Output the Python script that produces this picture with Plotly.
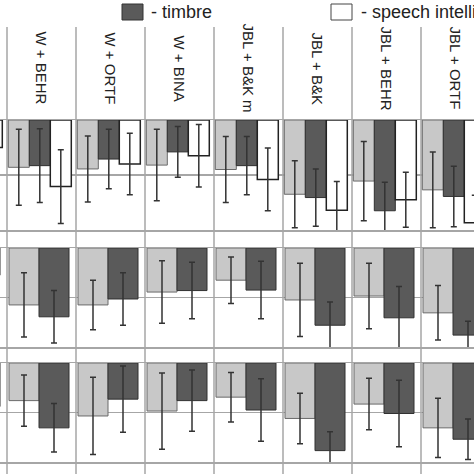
import plotly.graph_objects as go

# ---------------- data ----------------
categories = ["W + B&K", "W + BEHR", "W + ORTF", "W + BINA",
              "JBL + B&K m", "JBL + B&K", "JBL + BEHR", "JBL + ORTF"]

series_names = ["overall quality", "timbre", "speech intelligibility"]

# panel 1 (three series)
p1_light = [0.60, 0.86, 0.89, 0.82, 0.90, 1.35, 1.11, 1.27]
p1_light_err = [0.60, 0.69, 0.60, 0.65, 0.60, 0.61, 0.72, 0.69]
p1_dark = [0.60, 0.83, 0.71, 0.58, 0.83, 1.41, 1.65, 1.39]
p1_dark_err = [0.55, 0.67, 0.54, 0.46, 0.53, 0.52, 0.52, 0.55]
p1_white = [0.50, 1.21, 0.80, 0.65, 1.08, 1.64, 1.45, 1.87]
p1_white_err = [0.55, 0.67, 0.56, 0.57, 0.57, 0.52, 0.50, 0.50]

# panel 2 (two series)
p2_light = [0.80, 1.15, 1.15, 0.89, 0.65, 1.05, 0.97, 1.31]
p2_light_err = [0.50, 0.65, 0.50, 0.63, 0.47, 0.74, 0.66, 0.55]
p2_dark = [0.55, 1.39, 1.03, 0.86, 0.85, 1.56, 1.41, 1.76]
p2_dark_err = [0.50, 0.53, 0.53, 0.57, 0.58, 0.47, 0.63, 0.28]

# panel 3 (two series)
p3_light = [0.70, 0.76, 1.07, 0.97, 0.69, 1.12, 0.83, 1.31]
p3_light_err = [0.50, 0.52, 0.78, 0.77, 0.50, 0.51, 0.52, 0.60]
p3_dark = [0.88, 1.31, 0.73, 0.76, 0.95, 1.77, 1.02, 1.54]
p3_dark_err = [0.50, 0.49, 0.67, 0.62, 0.63, 0.38, 0.67, 0.41]

# ---------------- style ----------------
W = H = 474
LIGHT = "#c8c8c8"
DARK = "#5a5a5a"
WHITE = "#ffffff"
ERRC = "#333333"
GRID = "#a6a6a6"
FONT = "Liberation Sans, Arial, sans-serif"

xpos = list(range(len(categories)))
col_px = 69.0           # column width in pixels
left_px = 7.0           # left edge of column index 1
x_range = [0.5 - left_px / col_px, 0.5 + (W - left_px) / col_px]


def py(p):
    return 1 - p / H


def bar(vals, errs, color, line_color, line_w, offset, width, xa, ya, name):
    return go.Bar(
        x=xpos, y=vals, name=name, xaxis=xa, yaxis=ya,
        offset=offset, width=width,
        marker=dict(color=color, line=dict(color=line_color, width=line_w)),
        error_y=dict(type="data", array=errs, visible=True,
                     color=ERRC, thickness=1.5, width=3),
        showlegend=False, cliponaxis=False,
    )


fig = go.Figure()

w1 = 21 / col_px
o1 = -0.5 + 1.3 / col_px
fig.add_trace(bar(p1_light, p1_light_err, LIGHT, "#6a6a6a", 1, o1, w1, "x", "y", series_names[0]))
fig.add_trace(bar(p1_dark, p1_dark_err, DARK, "#303030", 1, o1 + w1, w1, "x", "y", series_names[1]))
fig.add_trace(bar(p1_white, p1_white_err, WHITE, "#222222", 1.5, o1 + 2 * w1, w1, "x", "y", series_names[2]))

w2 = 30 / col_px
o2 = -0.5 + 2 / col_px
fig.add_trace(bar(p2_light, p2_light_err, LIGHT, "#6a6a6a", 1, o2, w2, "x2", "y2", series_names[0]))
fig.add_trace(bar(p2_dark, p2_dark_err, DARK, "#303030", 1, o2 + w2, w2, "x2", "y2", series_names[1]))
fig.add_trace(bar(p3_light, p3_light_err, LIGHT, "#6a6a6a", 1, o2, w2, "x3", "y3", series_names[0]))
fig.add_trace(bar(p3_dark, p3_dark_err, DARK, "#303030", 1, o2 + w2, w2, "x3", "y3", series_names[1]))

# panel vertical extents (pixels from top)
panels = [(120, 230), (248, 347), (363, 462)]

xa_common = dict(range=x_range, showgrid=False, showticklabels=False, ticks="",
                 zeroline=False, showline=True, mirror=True,
                 linecolor=GRID, linewidth=1.5, fixedrange=True)
ya_common = dict(range=[2, 0], showgrid=True, dtick=1, tick0=0, gridcolor=GRID,
                 gridwidth=1.2, zeroline=False, showticklabels=False, ticks="",
                 fixedrange=True)

layout_axes = {}
for i, (top, bot) in enumerate(panels, start=1):
    sx = "" if i == 1 else str(i)
    layout_axes["xaxis" + sx] = dict(xa_common, domain=[0, 1], anchor="y" + sx)
    layout_axes["yaxis" + sx] = dict(ya_common, domain=[py(bot), py(top)], anchor="x" + sx)

shapes = []
# column separators
for k in range(len(categories) + 1):
    shapes.append(dict(type="line", xref="x", yref="paper",
                       x0=k - 0.5, x1=k - 0.5, y0=0, y1=py(27),
                       line=dict(color=GRID, width=1.5), layer="below"))

# legend boxes
shapes.append(dict(type="rect", xref="paper", yref="paper",
                   x0=122 / W, x1=143 / W, y0=py(20), y1=py(4),
                   fillcolor=DARK, line=dict(color="#333333", width=1)))
shapes.append(dict(type="rect", xref="paper", yref="paper",
                   x0=331 / W, x1=352 / W, y0=py(20), y1=py(4),
                   fillcolor=WHITE, line=dict(color="#444444", width=1)))

annotations = []
for k, cat in enumerate(categories):
    annotations.append(dict(x=k, y=py(68), xref="x", yref="paper",
                            text=cat, textangle=90, showarrow=False,
                            font=dict(family=FONT, size=15, color="#222222"),
                            xanchor="center", yanchor="middle"))
annotations.append(dict(x=149 / W, y=py(12), xref="paper", yref="paper",
                        text="- " + series_names[1], showarrow=False,
                        xanchor="left", yanchor="middle",
                        font=dict(family=FONT, size=18, color="#222222")))
annotations.append(dict(x=359 / W, y=py(12), xref="paper", yref="paper",
                        text="- " + series_names[2], showarrow=False,
                        xanchor="left", yanchor="middle",
                        font=dict(family=FONT, size=18, color="#222222")))

fig.update_layout(
    width=W, height=H, autosize=False,
    margin=dict(l=0, r=0, t=0, b=0),
    paper_bgcolor="white", plot_bgcolor="white",
    barmode="overlay",
    showlegend=False,
    shapes=shapes, annotations=annotations,
    **layout_axes,
)

fig.write_html("out.html",
               config={"displayModeBar": False, "staticPlot": True},
               post_script="document.body.style.margin='0';"
                           "document.body.style.overflow='hidden';")
